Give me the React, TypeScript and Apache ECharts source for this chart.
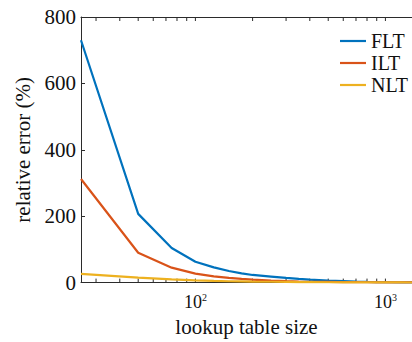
import React, { useEffect, useRef } from "react";
import * as echarts from "echarts";

const sizes = [25, 50, 75, 100, 125, 150, 175, 200, 250, 300, 350, 400, 500, 600, 700, 800, 900, 1000, 1200, 1380];
const fltError = [730, 207, 104, 63, 46, 35, 28, 23, 18, 14, 11, 9, 6, 4.5, 3.2, 2.3, 1.7, 1.3, 0.9, 0.7];
const iltError = [312, 90, 45, 27, 19, 14, 11, 9, 6, 4.2, 3.2, 2.6, 2, 1.5, 1.2, 1, 0.8, 0.7, 0.6, 0.5];
const nltError = [26, 15, 10, 7, 5, 4, 3.5, 3, 2.5, 2, 1.6, 1.4, 1.1, 0.9, 0.8, 0.7, 0.6, 0.5, 0.4, 0.3];
const xTickValues = [30, 40, 50, 60, 70, 80, 90, 100, 200, 300, 400, 500, 600, 700, 800, 900, 1000];

const FONT = "Liberation Serif";
const AXIS = "#2b2b2b";
const TEXT = "#111";

export default function App() {
  const ref = useRef<HTMLDivElement>(null);
  useEffect(() => {
    if (!ref.current) return;
    const chart = echarts.init(ref.current, null, { renderer: "svg" });
    const toPairs = (ys: number[]) => sizes.map((s, i) => [s, ys[i]]);
    chart.setOption({
      animation: false,
      backgroundColor: "#fff",
      textStyle: { fontFamily: FONT },
      grid: { left: 81, right: 0, top: 17, bottom: 55 },
      legend: {
        orient: "vertical",
        left: 335,
        top: 26,
        icon: "rect",
        itemWidth: 26,
        itemHeight: 2.2,
        itemGap: 2,
        textStyle: { fontFamily: FONT, fontSize: 20, color: TEXT },
        data: ["FLT", "ILT", "NLT"],
      },
      xAxis: [
        {
          type: "log",
          logBase: 10,
          min: 25,
          max: 1380,
          name: "lookup table size",
          nameLocation: "middle",
          nameGap: 31,
          nameTextStyle: { fontFamily: FONT, fontSize: 21, color: TEXT },
          axisLine: { lineStyle: { color: AXIS, width: 1 } },
          axisTick: { show: false },
          splitLine: { show: false },
          axisLabel: {
            margin: 10,
            showMinLabel: false,
            showMaxLabel: false,
            fontFamily: FONT,
            fontSize: 18,
            color: TEXT,
            formatter: (v: number) => {
              const e = Math.log10(v);
              if (Math.abs(e - Math.round(e)) > 1e-6) return "";
              return "10{sup|" + Math.round(e) + "}";
            },
            rich: {
              sup: { fontFamily: FONT, fontSize: 10, color: TEXT, verticalAlign: "top", padding: [0, 0, 9, 0] },
            },
          },
        },
        {
          type: "log",
          logBase: 10,
          min: 25,
          max: 1380,
          position: "top",
          axisLine: { lineStyle: { color: AXIS, width: 1 } },
          axisTick: { show: false },
          axisLabel: { show: false },
          splitLine: { show: false },
        },
      ],
      yAxis: {
        type: "value",
        min: 0,
        max: 800,
        interval: 200,
        name: "relative error (%)",
        nameLocation: "middle",
        nameGap: 40,
        nameTextStyle: { fontFamily: FONT, fontSize: 21, color: TEXT },
        axisLine: { show: true, lineStyle: { color: AXIS, width: 1 } },
        axisTick: { show: true, inside: true, length: 4, lineStyle: { color: AXIS } },
        splitLine: { show: false },
        axisLabel: { fontFamily: FONT, fontSize: 21, color: TEXT, margin: 5 },
      },
      series: [
        {
          type: "custom",
          silent: true,
          clip: false,
          xAxisIndex: 0,
          encode: { x: 0, y: 1 },
          data: xTickValues.map((v) => [v, 0]),
          renderItem: (params: any, api: any) => {
            const v = api.value(0);
            const b = api.coord([v, 0]);
            const t = api.coord([v, 800]);
            return {
              type: "group",
              children: [
                { type: "line", shape: { x1: b[0], y1: b[1], x2: b[0], y2: b[1] - 4 }, style: { stroke: AXIS, lineWidth: 1 } },
                { type: "line", shape: { x1: t[0], y1: t[1], x2: t[0], y2: t[1] + 4 }, style: { stroke: AXIS, lineWidth: 1 } },
              ],
            };
          },
        },
        { name: "FLT", type: "line", symbol: "none", data: toPairs(fltError), lineStyle: { width: 2.2, color: "#0072BD" }, itemStyle: { color: "#0072BD" } },
        { name: "ILT", type: "line", symbol: "none", data: toPairs(iltError), lineStyle: { width: 2.2, color: "#D95319" }, itemStyle: { color: "#D95319" } },
        { name: "NLT", type: "line", symbol: "none", data: toPairs(nltError), lineStyle: { width: 2.2, color: "#EDB120" }, itemStyle: { color: "#EDB120" } },
      ],
    });
    return () => chart.dispose();
  }, []);
  return <div ref={ref} style={{ position: "fixed", left: 0, top: 0, width: 412, height: 342 }} />;
}
